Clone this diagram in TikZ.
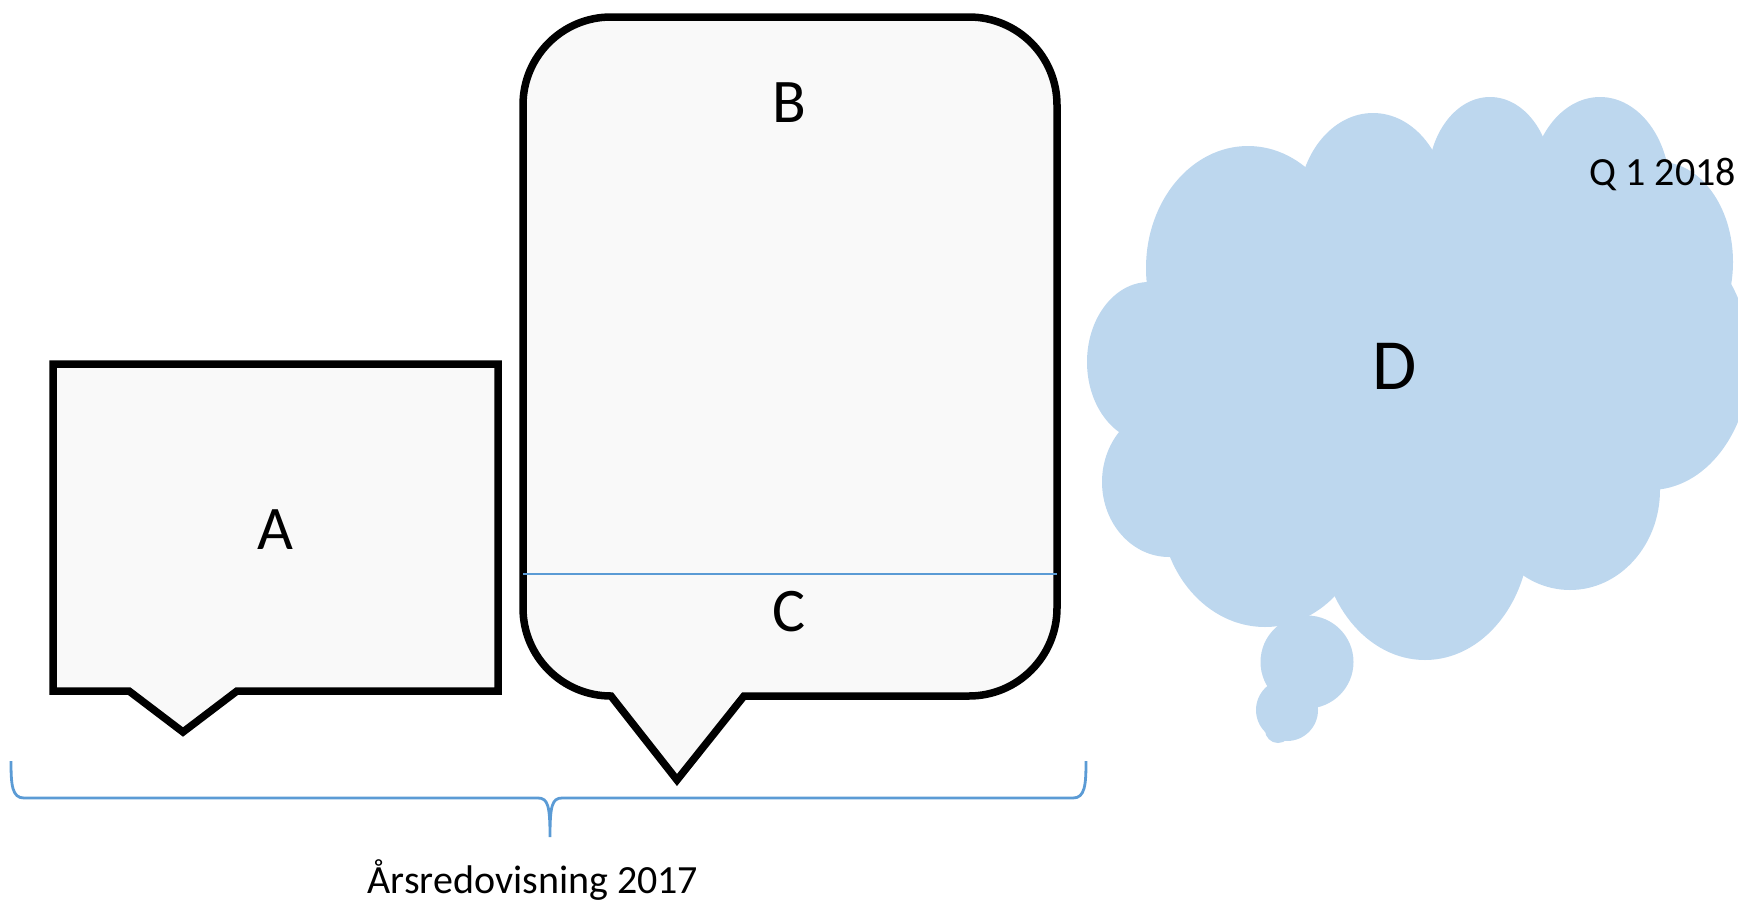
\documentclass[tikz,border=0pt]{standalone}
\usepackage{fontspec}
\setmainfont{Carlito}
\usepackage{tikz}
\definecolor{ink}{HTML}{000000}
\definecolor{paper}{HTML}{F9F9F9}
\definecolor{cloud}{HTML}{BDD7EE}
\definecolor{accent}{HTML}{5B9BD5}

\begin{document}
\begin{tikzpicture}[x=1pt,y=-1pt,
  callout/.style={draw=ink,fill=paper,line width=7.5pt,line join=miter},
  letter/.style={font=\fontsize{62}{74}\selectfont,text=ink,inner sep=0pt},
  caption/.style={font=\fontsize{40}{48}\selectfont,text=ink,inner sep=0pt}]
  \useasboundingbox (0,0) rectangle (1738,900);
  \clip (0,0) rectangle (1738,900);
  % callout A
  \draw[callout] (53,364) -- (498,364) -- (498,691) -- (237,691) -- (183,732) -- (129,691) -- (53,691) -- cycle;
  \node[letter] (a) at (275,530) {A};
  % callout B with the C band
  \draw[callout] (523,105) arc[start angle=180,end angle=270,radius=88] -- (969,17)
    arc[start angle=270,end angle=360,radius=88] -- (1057,608)
    arc[start angle=0,end angle=90,radius=88] -- (744,696) -- (677,780) -- (611,696)
    arc[start angle=90,end angle=180,radius=88] -- cycle;
  \coordinate (cl) at (523,574); \coordinate (cr) at (1057,574);
  \draw[accent,line width=2pt] (cl) -- (cr);
  \node[letter] (b) at (789,103) {B};
  \node[letter] (c) at (789,612) {C};
  % cloud D
  \fill[cloud] (1248,268) -- (1373,208) -- (1490,180) -- (1600,190) -- (1660,262) -- (1650,360) -- (1570,490)
    -- (1425,530) -- (1265,505) -- (1169,482) -- (1149,362) -- cycle;
  \foreach \cx/\cy/\rx/\ry in {1248/268/102/122, 1373/208/75/95, 1490/180/62/83, 1600/190/70/93,
      1660/262/73/100, 1650/360/100/130, 1570/490/90/100, 1425/530/105/130,
      1265/505/105/122, 1169/482/67/75, 1149/362/62/80}
    \fill[cloud] (\cx,\cy) ellipse[x radius=\rx,y radius=\ry];
  \fill[cloud] (1307,662) circle[radius=46.5];
  \fill[cloud] (1287,710) circle[radius=31];
  \fill[cloud] (1278,730) circle[radius=13];
  \node[letter,font=\fontsize{72}{86}\selectfont] (d) at (1395,366) {D};
  \node[caption,anchor=base east] (q) at (1736,185) {Q 1 2018};
  % brace
  \coordinate (bl) at (11,761); \coordinate (bm) at (550,837); \coordinate (br) at (1086,761);
  \draw[accent,line width=2.8pt] (bl) .. controls (11,785) and (12,798) .. (24,798) -- (538,798)
    .. controls (548,798) and (550,806) .. (bm) .. controls (550,806) and (552,798) .. (562,798)
    -- (1073,798) .. controls (1085,798) and (1086,785) .. (br);
  \node[caption,anchor=base] (year) at (533,893) {Årsredovisning 2017};
\end{tikzpicture}
\end{document}
